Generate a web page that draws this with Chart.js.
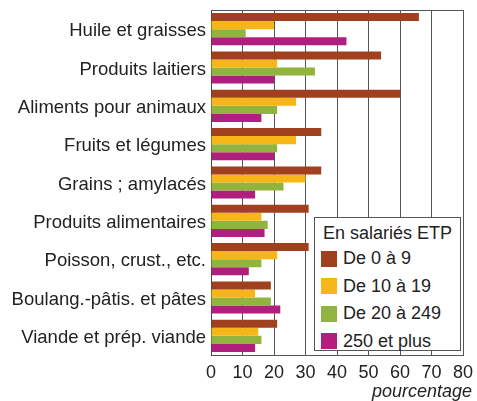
<!DOCTYPE html>
<html>
<head>
<meta charset="utf-8">
<script src="https://cdn.jsdelivr.net/npm/chart.js@4"></script>
<style>
  html, body { margin: 0; padding: 0; background: #fff; }
  #wrap { position: relative; width: 477px; height: 401px; }
  #legende {
    position: absolute; left: 314px; top: 217px; width: 147px; height: 134px;
    border: 1px solid #555; background: #fff; box-sizing: border-box;
    font-family: "Liberation Sans", Arial, sans-serif; color: #222;
    padding: 3px 0 0 6px;
  }
  #legende .titre { font-size: 18px; line-height: 24px; margin-left: 2px; }
  #legende .item { display: flex; align-items: center; font-size: 18px; height: 27.5px; }
  #legende .carre { width: 16px; height: 16px; margin-right: 6px; }
  #unite {
    position: absolute; right: 5px; top: 381px; line-height: 22px;
    font: italic 18px "Liberation Sans", Arial, sans-serif; color: #222;
  }
</style>
</head>
<body>
<div id="wrap">
  <canvas id="graphique" width="477" height="401"></canvas>
  <div id="legende"></div>
  <div id="unite">pourcentage</div>
</div>
<script>
// Données
const categories = [
  "Huile et graisses", "Produits laitiers", "Aliments pour animaux",
  "Fruits et légumes", "Grains ; amylacés", "Produits alimentaires",
  "Poisson, crust., etc.", "Boulang.-pâtis. et pâtes", "Viande et prép. viande"
];
const de0a9     = [66, 54, 60, 35, 35, 31, 31, 19, 21];
const de10a19   = [20, 21, 27, 27, 30, 16, 21, 14, 15];
const de20a249  = [11, 33, 21, 21, 23, 18, 16, 19, 16];
const plus250   = [43, 20, 16, 20, 14, 17, 12, 22, 14];
const xTicks = [0, 10, 20, 30, 40, 50, 60, 70, 80];

const series = [
  { label: "De 0 à 9",     data: de0a9,    color: "#a0401f" },
  { label: "De 10 à 19",   data: de10a19,  color: "#f7b617" },
  { label: "De 20 à 249",  data: de20a249, color: "#91b43e" },
  { label: "250 et plus",  data: plus250,  color: "#b01f7e" }
];

// Légende HTML
const leg = document.getElementById("legende");
leg.innerHTML = `<div class="titre">En salariés ETP</div>` +
  series.map(s => `<div class="item"><span class="carre" style="background:${s.color}"></span>${s.label}</div>`).join("");

// Trait du haut de la zone de tracé
const cadre = {
  id: "cadre",
  afterDraw(chart) {
    const { ctx, chartArea: a } = chart;
    ctx.save();
    ctx.strokeStyle = "#555";
    ctx.lineWidth = 1;
    ctx.beginPath();
    ctx.moveTo(a.left, Math.round(a.top) + 0.5);
    ctx.lineTo(a.right, Math.round(a.top) + 0.5);
    ctx.stroke();
    ctx.restore();
  }
};

const police = "'Liberation Sans', Arial, sans-serif";

new Chart(document.getElementById("graphique"), {
  type: "bar",
  data: {
    labels: categories,
    datasets: series.map(s => ({
      label: s.label,
      data: s.data,
      backgroundColor: s.color,
      barPercentage: 1,
      categoryPercentage: 0.84
    }))
  },
  options: {
    indexAxis: "y",
    responsive: false,
    animation: false,
    layout: { padding: { top: 10, right: 14, bottom: 0, left: 0 } },
    plugins: { legend: { display: false }, tooltip: { enabled: false } },
    scales: {
      x: {
        min: 0, max: 80,
        afterBuildTicks(axis) { axis.ticks = xTicks.map(v => ({ value: v })); },
        afterFit(axis) { axis.height = 46; axis.paddingLeft = 0; axis.paddingRight = 0; },
        grid: { color: "#555", lineWidth: 1, drawTicks: false },
        border: { color: "#555" },
        ticks: { color: "#222", font: { family: police, size: 18 }, padding: 7 }
      },
      y: {
        grid: { display: false, drawTicks: false },
        border: { color: "#444", width: 1 },
        afterFit(axis) { axis.width = 211; axis.paddingTop = 0; axis.paddingBottom = 0; },
        ticks: { color: "#222", font: { family: police, size: 18.5 }, padding: 5, labelOffset: 2 }
      }
    }
  },
  plugins: [cadre]
});
</script>
</body>
</html>
